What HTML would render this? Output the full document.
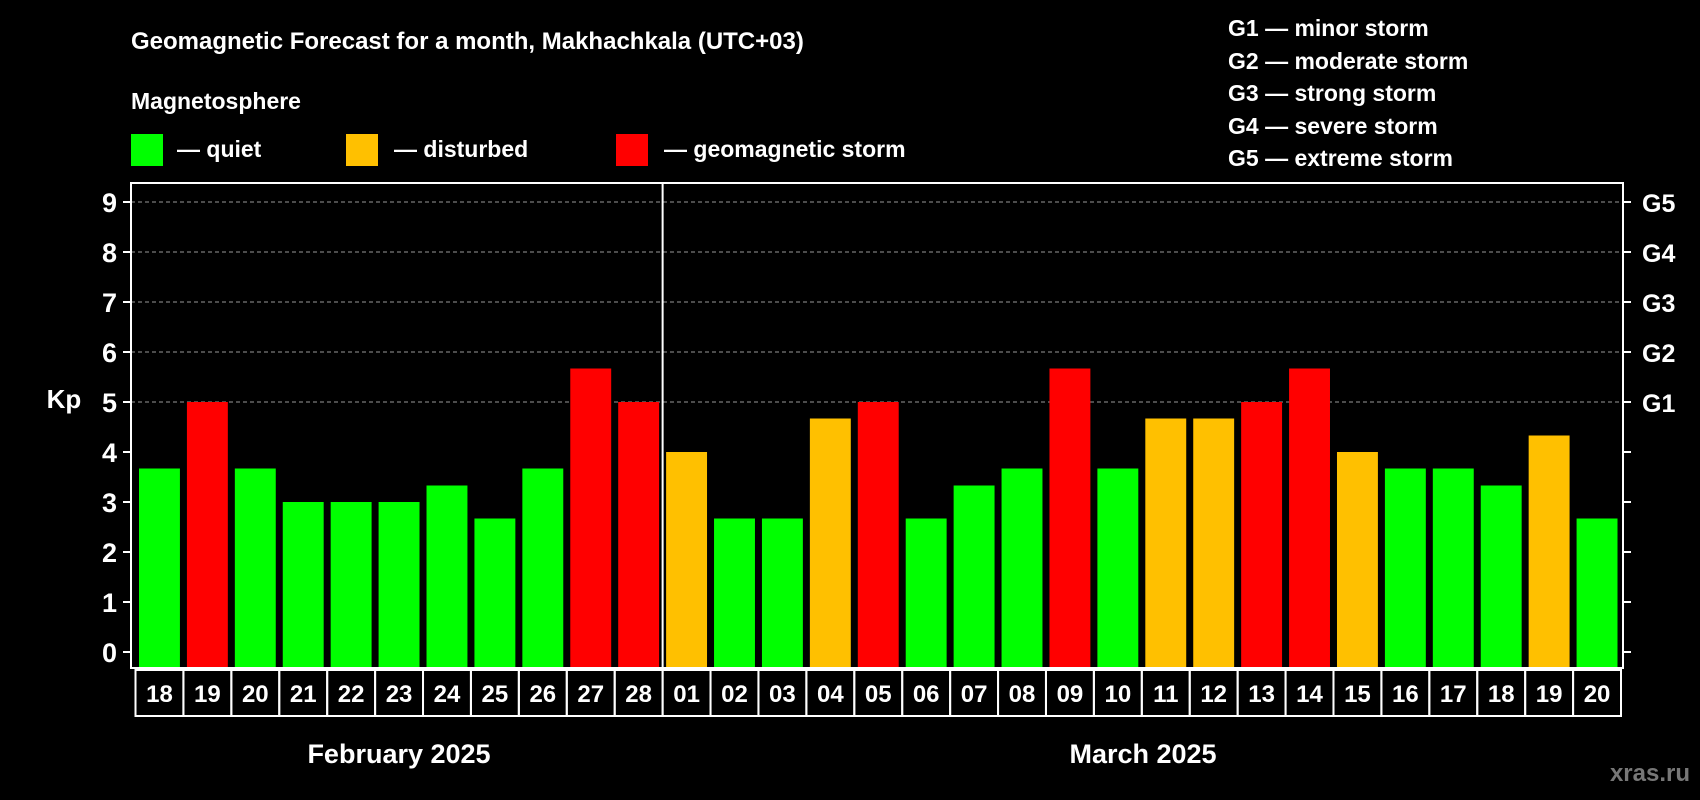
<!DOCTYPE html>
<html><head><meta charset="utf-8"><style>
body{margin:0;background:#000;width:1700px;height:800px;overflow:hidden}
svg{display:block;font-family:"Liberation Sans",Arial,sans-serif;font-weight:bold}
</style></head><body>
<svg id="c" width="1700" height="800" viewBox="0 0 1700 800">
<text x="131" y="49" font-size="24" fill="#fff">Geomagnetic Forecast for a month, Makhachkala (UTC+03)</text>
<text x="131" y="109" font-size="23" fill="#fff">Magnetosphere</text>
<g><rect x="131" y="134" width="32" height="32" fill="#00ff00"/><text x="177" y="157" font-size="23" fill="#fff">— quiet</text></g>
<g><rect x="346" y="134" width="32" height="32" fill="#ffc000"/><text x="394" y="157" font-size="23" fill="#fff">— disturbed</text></g>
<g><rect x="616" y="134" width="32" height="32" fill="#ff0000"/><text x="664" y="157" font-size="23" fill="#fff">— geomagnetic storm</text></g>
<g font-size="23" fill="#fff">
<text x="1228" y="36">G1 — minor storm</text>
<text x="1228" y="69">G2 — moderate storm</text>
<text x="1228" y="101">G3 — strong storm</text>
<text x="1228" y="134">G4 — severe storm</text>
<text x="1228" y="166">G5 — extreme storm</text>
</g>
<text x="64" y="408" font-size="26" fill="#fff" text-anchor="middle">Kp</text>
<g id="plot"></g>
<text x="399" y="763" font-size="27" fill="#fff" text-anchor="middle">February 2025</text>
<text x="1143" y="763" font-size="27" fill="#fff" text-anchor="middle">March 2025</text>
<text x="1690" y="781" font-size="24" fill="#777" text-anchor="end">xras.ru</text>
</svg>
<script>
const days=["18","19","20","21","22","23","24","25","26","27","28","01","02","03","04","05","06","07","08","09","10","11","12","13","14","15","16","17","18","19","20"];
const kpValues=[3.67,5,3.67,3,3,3,3.33,2.67,3.67,5.67,5,4,2.67,2.67,4.67,5,2.67,3.33,3.67,5.67,3.67,4.67,4.67,5,5.67,4,3.67,3.67,3.33,4.33,2.67];
const yTicks=[0,1,2,3,4,5,6,7,8,9];
const gLabels=["","","","","","G1","G2","G3","G4","G5"];
const NS="http://www.w3.org/2000/svg";
const g=document.getElementById('plot');
const L=131,R=1623,T=183,B=668,X0=135.5,CW=(1621-135.5)/days.length;
const y=v=>652-v*50;
const x=i=>X0+i*CW;
function mk(t,a){const e=document.createElementNS(NS,t);for(const k in a)e.setAttribute(k,a[k]);g.appendChild(e);return e;}
yTicks.forEach((v,i)=>{
 if(v>=5){const l=mk('line',{x1:L,x2:R,y1:y(v),y2:y(v),stroke:'#999','stroke-width':1,'stroke-dasharray':'4,3'});
 
 }
 const t1=mk('line',{x1:L-8,x2:L,y1:y(v),y2:y(v),stroke:'#fff','stroke-width':2});
 
 
 const t2=mk('line',{x1:R,x2:R+8,y1:y(v),y2:y(v),stroke:'#fff','stroke-width':2});
 
 
 const tl=mk('text',{x:117,y:y(v)+10,'font-size':27,fill:'#fff','text-anchor':'end'});tl.textContent=v;
 
 
 if(gLabels[i]){const gl=mk('text',{x:1642,y:y(v)+10,'font-size':25,fill:'#fff'});gl.textContent=gLabels[i];
 
 }
});
kpValues.forEach((v,i)=>{
 const c=v>=5?'#ff0000':(v>=4?'#ffc000':'#00ff00');
 const r=mk('rect',{x:x(i)+3.5,y:y(v),width:CW-7,height:B-1-y(v),fill:c});
 
 
 const cell=mk('rect',{x:x(i),y:670,width:CW,height:46,fill:'none',stroke:'#fff','stroke-width':2});
 
 
 const t=mk('text',{x:x(i)+CW/2,y:702,'font-size':24,fill:'#fff','text-anchor':'middle'});t.textContent=days[i];
 
 
});
const fr=mk('rect',{x:L,y:T,width:R-L,height:B-T,fill:'none',stroke:'#fff','stroke-width':2});


const sep=mk('line',{x1:x(11),x2:x(11),y1:T,y2:B,stroke:'#fff','stroke-width':2});


</script>
</body></html>
